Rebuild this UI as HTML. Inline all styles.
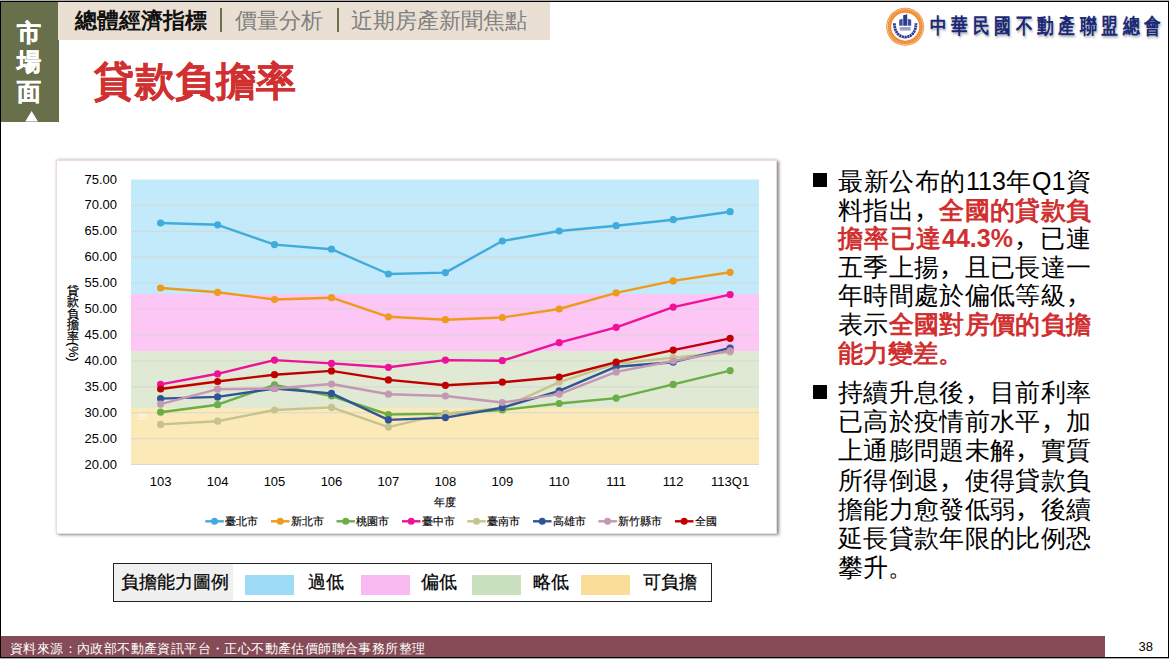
<!DOCTYPE html>
<html><head><meta charset="utf-8">
<style>
html,body{margin:0;padding:0;}
body{width:1169px;height:659px;position:relative;overflow:hidden;background:#adadad;font-family:"Liberation Sans",sans-serif;}
.slide{position:absolute;left:0;top:1px;width:1167px;height:655px;border:1px solid #000;background:#fff;}
.abs{position:absolute;}
.side{left:1px;top:2px;width:57.6px;height:119.5px;background:#686F4B;}
.side .t{position:absolute;left:-1px;width:57px;text-align:center;color:#fff;font-weight:bold;font-size:23.5px;line-height:25px;-webkit-text-stroke:0.6px #fff;}
.tri{position:absolute;left:22px;top:110px;width:0;height:0;border-left:6px solid transparent;border-right:6px solid transparent;border-bottom:10px solid #fff;}
.nav{left:58px;top:2px;width:492px;height:37.5px;background:#EADFD3;}
.nav span{position:absolute;top:6px;font-size:22px;line-height:26px;white-space:nowrap;}
.nav .sep{position:absolute;width:2px;background:#6B7148;top:6px;height:24px;}
.title{left:94px;top:57px;font-size:40.4px;letter-spacing:0.5px;line-height:48px;font-weight:bold;color:#D03030;white-space:nowrap;-webkit-text-stroke:0.2px #D03030;}
.card{left:56px;top:160px;width:719px;height:372px;border:1px solid #F0DADA;background:#fff;box-shadow:2px 1px 3px rgba(0,0,0,0.45),0 -1px 3px rgba(0,0,0,0.12);}
svg text{font-family:"Liberation Sans",sans-serif;}
.ax{font-size:13px;fill:#000;}
.lg{font-size:11.3px;fill:#000;stroke:#000;stroke-width:0.15;}
.bul{position:absolute;left:813px;width:14px;height:14px;background:#000;}
.ln{position:absolute;left:838px;width:253px;font-size:25px;line-height:30px;height:30px;color:#000;white-space:nowrap;}
.j{text-align:justify;text-align-last:justify;}
.red{color:#D03030;font-weight:bold;}
.legbox{left:113px;top:563px;width:597px;height:36.5px;border:1px solid #222;background:#fff;}
.legbox .h{position:absolute;left:0;top:0;width:119px;height:36.5px;background:#F0F0F0;}
.legbox span{position:absolute;top:7px;font-size:17.5px;line-height:22px;white-space:nowrap;-webkit-text-stroke:0.25px #000;}
.legbox .sw{position:absolute;top:10.5px;width:49px;height:20.5px;}
.footer{left:1px;top:636px;width:1104px;height:21px;background:#854B56;color:#fff;font-size:13.3px;line-height:22px;}
..title{left:94px;top:57px;font-size:40.4px;letter-spacing:0.5px;line-height:48px;font-weight:bold;color:#D03030;white-space:nowrap;-webkit-text-stroke:0.2px #D03030;}
.logo{left:930px;top:14px;font-weight:bold;font-size:17px;line-height:20px;letter-spacing:4.4px;color:#1A2878;white-space:nowrap;text-shadow:1px 2px 2px rgba(0,0,0,0.3);transform:scaleY(1.25);transform-origin:0 0;}
</style></head><body>
<div class="slide"></div>
<div class="abs side">
  <div class="t" style="top:18.5px">市</div>
  <div class="t" style="top:48px">場</div>
  <div class="t" style="top:77.5px">面</div>
  <svg style="position:absolute;left:0;top:0" width="57" height="120"><polygon points="24.3,119.5 30.6,109 37,119.5" fill="#fff"/></svg>
</div>
<div class="abs nav">
  <span style="left:17px;font-weight:bold;color:#111;">總體經濟指標</span>
  <div class="sep" style="left:162px"></div>
  <span style="left:177px;color:#808080;">價量分析</span>
  <div class="sep" style="left:279px"></div>
  <span style="left:293px;color:#808080;">近期房產新聞焦點</span>
</div>
<div class="abs title">貸款負擔率</div>
<div class="abs card"></div>
<div class="abs legbox">
  <div class="h"></div>
  <span style="left:7px">負擔能力圖例</span>
  <div class="sw" style="left:131px;background:#9DDBF6"></div>
  <span style="left:193.5px">過低</span>
  <div class="sw" style="left:247px;background:#F9BAF2"></div>
  <span style="left:307px">偏低</span>
  <div class="sw" style="left:358px;background:#C9E1BF"></div>
  <span style="left:419px">略低</span>
  <div class="sw" style="left:467px;background:#FADD98"></div>
  <span style="left:528.5px">可負擔</span>
</div>
<div class="bul" style="top:173px"></div>
<div class="bul" style="top:385px"></div>
<div class="ln j" style="top:166.0px">最新公布的113年Q1資</div>
<div class="ln j" style="top:194.6px">料指出<span lang="zh-CN">，</span><span class="red">全國的貸款負</span></div>
<div class="ln j" style="top:223.2px"><span class="red">擔率已達44.3%</span><span lang="zh-CN">，</span>已連</div>
<div class="ln j" style="top:251.8px">五季上揚<span lang="zh-CN">，</span>且已長達一</div>
<div class="ln j" style="top:280.4px">年時間處於偏低等級<span lang="zh-CN">，</span></div>
<div class="ln j" style="top:309.0px">表示<span class="red">全國對房價的負擔</span></div>
<div class="ln" style="top:337.6px"><span class="red">能力變差。</span></div>
<div class="ln j" style="top:377.0px">持續升息後<span lang="zh-CN">，</span>目前利率</div>
<div class="ln j" style="top:406.2px">已高於疫情前水平<span lang="zh-CN">，</span>加</div>
<div class="ln j" style="top:435.4px">上通膨問題未解<span lang="zh-CN">，</span>實質</div>
<div class="ln j" style="top:464.6px">所得倒退<span lang="zh-CN">，</span>使得貸款負</div>
<div class="ln j" style="top:493.8px">擔能力愈發低弱<span lang="zh-CN">，</span>後續</div>
<div class="ln j" style="top:523.0px">延長貸款年限的比例恐</div>
<div class="ln" style="top:552.2px">攀升。</div>

<div class="abs footer"><span style="position:absolute;left:9px;top:1.5px;width:415px;text-align:justify;text-align-last:justify;">資料來源：內政部不動產資訊平台・正心不動產估價師聯合事務所整理</span></div>
<div class="abs" style="left:1138.5px;top:638.5px;font-size:13px;line-height:15px;">38</div>
<div class="abs logo">中華民國不動產聯盟總會</div>
<svg class="abs" style="left:0;top:0" width="1169" height="659" viewBox="0 0 1169 659">
  <rect x="131" y="179.5" width="628" height="114.5" fill="#C2EAFA"/>
  <rect x="131" y="294" width="628" height="57" fill="#FCC6F5"/>
  <rect x="131" y="351" width="628" height="57" fill="#DFE9D3"/>
  <rect x="131" y="408" width="628" height="56.5" fill="#FBEAB7"/>
  <line x1="131" y1="205.4" x2="759" y2="205.4" stroke="#D6D6D6" stroke-width="1.2" opacity="0.7"/>
<line x1="131" y1="231.3" x2="759" y2="231.3" stroke="#D6D6D6" stroke-width="1.2" opacity="0.7"/>
<line x1="131" y1="257.2" x2="759" y2="257.2" stroke="#D6D6D6" stroke-width="1.2" opacity="0.7"/>
<line x1="131" y1="283.1" x2="759" y2="283.1" stroke="#D6D6D6" stroke-width="1.2" opacity="0.7"/>
<line x1="131" y1="309.0" x2="759" y2="309.0" stroke="#D6D6D6" stroke-width="1.2" opacity="0.7"/>
<line x1="131" y1="335.0" x2="759" y2="335.0" stroke="#D6D6D6" stroke-width="1.2" opacity="0.7"/>
<line x1="131" y1="360.9" x2="759" y2="360.9" stroke="#D6D6D6" stroke-width="1.2" opacity="0.7"/>
<line x1="131" y1="386.8" x2="759" y2="386.8" stroke="#D6D6D6" stroke-width="1.2" opacity="0.7"/>
<line x1="131" y1="412.7" x2="759" y2="412.7" stroke="#D6D6D6" stroke-width="1.2" opacity="0.7"/>
<line x1="131" y1="438.6" x2="759" y2="438.6" stroke="#D6D6D6" stroke-width="1.2" opacity="0.7"/>
<line x1="131" y1="464.5" x2="759" y2="464.5" stroke="#D6D6D6" stroke-width="1.2" opacity="0.9"/>
  <text x="117" y="183.5" class="ax" text-anchor="end">75.00</text>
<text x="117" y="209.4" class="ax" text-anchor="end">70.00</text>
<text x="117" y="235.3" class="ax" text-anchor="end">65.00</text>
<text x="117" y="261.2" class="ax" text-anchor="end">60.00</text>
<text x="117" y="287.1" class="ax" text-anchor="end">55.00</text>
<text x="117" y="313.0" class="ax" text-anchor="end">50.00</text>
<text x="117" y="339.0" class="ax" text-anchor="end">45.00</text>
<text x="117" y="364.9" class="ax" text-anchor="end">40.00</text>
<text x="117" y="390.8" class="ax" text-anchor="end">35.00</text>
<text x="117" y="416.7" class="ax" text-anchor="end">30.00</text>
<text x="117" y="442.6" class="ax" text-anchor="end">25.00</text>
<text x="117" y="468.5" class="ax" text-anchor="end">20.00</text>
  <text x="160.6" y="485.5" class="ax" text-anchor="middle">103</text>
<text x="217.6" y="485.5" class="ax" text-anchor="middle">104</text>
<text x="274.5" y="485.5" class="ax" text-anchor="middle">105</text>
<text x="331.5" y="485.5" class="ax" text-anchor="middle">106</text>
<text x="388.4" y="485.5" class="ax" text-anchor="middle">107</text>
<text x="445.4" y="485.5" class="ax" text-anchor="middle">108</text>
<text x="502.3" y="485.5" class="ax" text-anchor="middle">109</text>
<text x="559.2" y="485.5" class="ax" text-anchor="middle">110</text>
<text x="616.2" y="485.5" class="ax" text-anchor="middle">111</text>
<text x="673.2" y="485.5" class="ax" text-anchor="middle">112</text>
<text x="730.1" y="485.5" class="ax" text-anchor="middle">113Q1</text>
  <text x="434" y="506" class="lg">年度</text>
  <text x="137.5" y="420" style="font-size:8.6px;fill:#fff;opacity:0.85">30</text>
<text x="73" y="294.5" class="lg" style="font-size:11.8px;stroke:#000;stroke-width:0.25" text-anchor="middle">貸</text>
<text x="73" y="306.0" class="lg" style="font-size:11.8px;stroke:#000;stroke-width:0.25" text-anchor="middle">款</text>
<text x="73" y="317.5" class="lg" style="font-size:11.8px;stroke:#000;stroke-width:0.25" text-anchor="middle">負</text>
<text x="73" y="329.0" class="lg" style="font-size:11.8px;stroke:#000;stroke-width:0.25" text-anchor="middle">擔</text>
<text x="73" y="340.5" class="lg" style="font-size:11.8px;stroke:#000;stroke-width:0.25" text-anchor="middle">率</text>
<text transform="translate(68.5,342) rotate(90)" class="lg" style="font-size:12.5px;stroke:#000;stroke-width:0.2">(%)</text>
  <polyline points="160.6,223.0 217.6,224.8 274.5,244.6 331.5,249.2 388.4,274.0 445.4,272.6 502.3,241.0 559.2,231.0 616.2,225.7 673.2,219.7 730.1,211.7" fill="none" stroke="#41ABDB" stroke-width="2.4" stroke-linejoin="round"/>
<circle cx="160.6" cy="223.0" r="3.6" fill="#41ABDB"/>
<circle cx="217.6" cy="224.8" r="3.6" fill="#41ABDB"/>
<circle cx="274.5" cy="244.6" r="3.6" fill="#41ABDB"/>
<circle cx="331.5" cy="249.2" r="3.6" fill="#41ABDB"/>
<circle cx="388.4" cy="274.0" r="3.6" fill="#41ABDB"/>
<circle cx="445.4" cy="272.6" r="3.6" fill="#41ABDB"/>
<circle cx="502.3" cy="241.0" r="3.6" fill="#41ABDB"/>
<circle cx="559.2" cy="231.0" r="3.6" fill="#41ABDB"/>
<circle cx="616.2" cy="225.7" r="3.6" fill="#41ABDB"/>
<circle cx="673.2" cy="219.7" r="3.6" fill="#41ABDB"/>
<circle cx="730.1" cy="211.7" r="3.6" fill="#41ABDB"/>
<polyline points="160.6,288.0 217.6,292.3 274.5,299.5 331.5,297.7 388.4,316.8 445.4,319.7 502.3,317.5 559.2,309.0 616.2,292.8 673.2,280.9 730.1,272.3" fill="none" stroke="#EE9A1C" stroke-width="2.4" stroke-linejoin="round"/>
<circle cx="160.6" cy="288.0" r="3.6" fill="#EE9A1C"/>
<circle cx="217.6" cy="292.3" r="3.6" fill="#EE9A1C"/>
<circle cx="274.5" cy="299.5" r="3.6" fill="#EE9A1C"/>
<circle cx="331.5" cy="297.7" r="3.6" fill="#EE9A1C"/>
<circle cx="388.4" cy="316.8" r="3.6" fill="#EE9A1C"/>
<circle cx="445.4" cy="319.7" r="3.6" fill="#EE9A1C"/>
<circle cx="502.3" cy="317.5" r="3.6" fill="#EE9A1C"/>
<circle cx="559.2" cy="309.0" r="3.6" fill="#EE9A1C"/>
<circle cx="616.2" cy="292.8" r="3.6" fill="#EE9A1C"/>
<circle cx="673.2" cy="280.9" r="3.6" fill="#EE9A1C"/>
<circle cx="730.1" cy="272.3" r="3.6" fill="#EE9A1C"/>
<polyline points="160.6,412.2 217.6,404.7 274.5,384.9 331.5,396.0 388.4,414.5 445.4,413.6 502.3,410.0 559.2,403.5 616.2,398.1 673.2,384.4 730.1,370.6" fill="none" stroke="#6BAE47" stroke-width="2.4" stroke-linejoin="round"/>
<circle cx="160.6" cy="412.2" r="3.6" fill="#6BAE47"/>
<circle cx="217.6" cy="404.7" r="3.6" fill="#6BAE47"/>
<circle cx="274.5" cy="384.9" r="3.6" fill="#6BAE47"/>
<circle cx="331.5" cy="396.0" r="3.6" fill="#6BAE47"/>
<circle cx="388.4" cy="414.5" r="3.6" fill="#6BAE47"/>
<circle cx="445.4" cy="413.6" r="3.6" fill="#6BAE47"/>
<circle cx="502.3" cy="410.0" r="3.6" fill="#6BAE47"/>
<circle cx="559.2" cy="403.5" r="3.6" fill="#6BAE47"/>
<circle cx="616.2" cy="398.1" r="3.6" fill="#6BAE47"/>
<circle cx="673.2" cy="384.4" r="3.6" fill="#6BAE47"/>
<circle cx="730.1" cy="370.6" r="3.6" fill="#6BAE47"/>
<polyline points="160.6,384.4 217.6,373.8 274.5,360.1 331.5,363.4 388.4,367.3 445.4,360.1 502.3,360.7 559.2,342.7 616.2,327.3 673.2,307.1 730.1,294.6" fill="none" stroke="#EE119A" stroke-width="2.4" stroke-linejoin="round"/>
<circle cx="160.6" cy="384.4" r="3.6" fill="#EE119A"/>
<circle cx="217.6" cy="373.8" r="3.6" fill="#EE119A"/>
<circle cx="274.5" cy="360.1" r="3.6" fill="#EE119A"/>
<circle cx="331.5" cy="363.4" r="3.6" fill="#EE119A"/>
<circle cx="388.4" cy="367.3" r="3.6" fill="#EE119A"/>
<circle cx="445.4" cy="360.1" r="3.6" fill="#EE119A"/>
<circle cx="502.3" cy="360.7" r="3.6" fill="#EE119A"/>
<circle cx="559.2" cy="342.7" r="3.6" fill="#EE119A"/>
<circle cx="616.2" cy="327.3" r="3.6" fill="#EE119A"/>
<circle cx="673.2" cy="307.1" r="3.6" fill="#EE119A"/>
<circle cx="730.1" cy="294.6" r="3.6" fill="#EE119A"/>
<polyline points="160.6,424.4 217.6,421.2 274.5,410.0 331.5,407.4 388.4,427.1 445.4,413.6 502.3,408.0 559.2,382.2 616.2,363.7 673.2,357.6 730.1,351.9" fill="none" stroke="#C5C38F" stroke-width="2.4" stroke-linejoin="round"/>
<circle cx="160.6" cy="424.4" r="3.6" fill="#C5C38F"/>
<circle cx="217.6" cy="421.2" r="3.6" fill="#C5C38F"/>
<circle cx="274.5" cy="410.0" r="3.6" fill="#C5C38F"/>
<circle cx="331.5" cy="407.4" r="3.6" fill="#C5C38F"/>
<circle cx="388.4" cy="427.1" r="3.6" fill="#C5C38F"/>
<circle cx="445.4" cy="413.6" r="3.6" fill="#C5C38F"/>
<circle cx="502.3" cy="408.0" r="3.6" fill="#C5C38F"/>
<circle cx="559.2" cy="382.2" r="3.6" fill="#C5C38F"/>
<circle cx="616.2" cy="363.7" r="3.6" fill="#C5C38F"/>
<circle cx="673.2" cy="357.6" r="3.6" fill="#C5C38F"/>
<circle cx="730.1" cy="351.9" r="3.6" fill="#C5C38F"/>
<polyline points="160.6,398.6 217.6,396.9 274.5,388.5 331.5,393.4 388.4,419.9 445.4,417.6 502.3,407.7 559.2,390.8 616.2,366.7 673.2,362.2 730.1,348.0" fill="none" stroke="#2F5597" stroke-width="2.4" stroke-linejoin="round"/>
<circle cx="160.6" cy="398.6" r="3.6" fill="#2F5597"/>
<circle cx="217.6" cy="396.9" r="3.6" fill="#2F5597"/>
<circle cx="274.5" cy="388.5" r="3.6" fill="#2F5597"/>
<circle cx="331.5" cy="393.4" r="3.6" fill="#2F5597"/>
<circle cx="388.4" cy="419.9" r="3.6" fill="#2F5597"/>
<circle cx="445.4" cy="417.6" r="3.6" fill="#2F5597"/>
<circle cx="502.3" cy="407.7" r="3.6" fill="#2F5597"/>
<circle cx="559.2" cy="390.8" r="3.6" fill="#2F5597"/>
<circle cx="616.2" cy="366.7" r="3.6" fill="#2F5597"/>
<circle cx="673.2" cy="362.2" r="3.6" fill="#2F5597"/>
<circle cx="730.1" cy="348.0" r="3.6" fill="#2F5597"/>
<polyline points="160.6,404.1 217.6,389.2 274.5,388.5 331.5,384.0 388.4,394.2 445.4,396.0 502.3,402.5 559.2,394.1 616.2,371.9 673.2,361.0 730.1,350.8" fill="none" stroke="#C497B5" stroke-width="2.4" stroke-linejoin="round"/>
<circle cx="160.6" cy="404.1" r="3.6" fill="#C497B5"/>
<circle cx="217.6" cy="389.2" r="3.6" fill="#C497B5"/>
<circle cx="274.5" cy="388.5" r="3.6" fill="#C497B5"/>
<circle cx="331.5" cy="384.0" r="3.6" fill="#C497B5"/>
<circle cx="388.4" cy="394.2" r="3.6" fill="#C497B5"/>
<circle cx="445.4" cy="396.0" r="3.6" fill="#C497B5"/>
<circle cx="502.3" cy="402.5" r="3.6" fill="#C497B5"/>
<circle cx="559.2" cy="394.1" r="3.6" fill="#C497B5"/>
<circle cx="616.2" cy="371.9" r="3.6" fill="#C497B5"/>
<circle cx="673.2" cy="361.0" r="3.6" fill="#C497B5"/>
<circle cx="730.1" cy="350.8" r="3.6" fill="#C497B5"/>
<polyline points="160.6,389.0 217.6,381.5 274.5,374.7 331.5,370.9 388.4,379.9 445.4,385.3 502.3,382.2 559.2,377.0 616.2,362.1 673.2,350.1 730.1,338.3" fill="none" stroke="#C00000" stroke-width="2.4" stroke-linejoin="round"/>
<circle cx="160.6" cy="389.0" r="3.6" fill="#C00000"/>
<circle cx="217.6" cy="381.5" r="3.6" fill="#C00000"/>
<circle cx="274.5" cy="374.7" r="3.6" fill="#C00000"/>
<circle cx="331.5" cy="370.9" r="3.6" fill="#C00000"/>
<circle cx="388.4" cy="379.9" r="3.6" fill="#C00000"/>
<circle cx="445.4" cy="385.3" r="3.6" fill="#C00000"/>
<circle cx="502.3" cy="382.2" r="3.6" fill="#C00000"/>
<circle cx="559.2" cy="377.0" r="3.6" fill="#C00000"/>
<circle cx="616.2" cy="362.1" r="3.6" fill="#C00000"/>
<circle cx="673.2" cy="350.1" r="3.6" fill="#C00000"/>
<circle cx="730.1" cy="338.3" r="3.6" fill="#C00000"/>
  <line x1="205.3" y1="521.3" x2="223.8" y2="521.3" stroke="#41ABDB" stroke-width="2.4"/><circle cx="214.5" cy="521.3" r="3.5" fill="#41ABDB"/>
<text x="224.8" y="524.8" class="lg">臺北市</text>
<line x1="271.0" y1="521.3" x2="289.5" y2="521.3" stroke="#EE9A1C" stroke-width="2.4"/><circle cx="280.2" cy="521.3" r="3.5" fill="#EE9A1C"/>
<text x="290.5" y="524.8" class="lg">新北市</text>
<line x1="336.5" y1="521.3" x2="355.0" y2="521.3" stroke="#6BAE47" stroke-width="2.4"/><circle cx="345.7" cy="521.3" r="3.5" fill="#6BAE47"/>
<text x="356.0" y="524.8" class="lg">桃園市</text>
<line x1="402.0" y1="521.3" x2="420.5" y2="521.3" stroke="#EE119A" stroke-width="2.4"/><circle cx="411.2" cy="521.3" r="3.5" fill="#EE119A"/>
<text x="421.5" y="524.8" class="lg">臺中市</text>
<line x1="467.3" y1="521.3" x2="485.8" y2="521.3" stroke="#C5C38F" stroke-width="2.4"/><circle cx="476.5" cy="521.3" r="3.5" fill="#C5C38F"/>
<text x="486.8" y="524.8" class="lg">臺南市</text>
<line x1="533.0" y1="521.3" x2="551.5" y2="521.3" stroke="#2F5597" stroke-width="2.4"/><circle cx="542.2" cy="521.3" r="3.5" fill="#2F5597"/>
<text x="552.5" y="524.8" class="lg">高雄市</text>
<line x1="598.4" y1="521.3" x2="616.9" y2="521.3" stroke="#C497B5" stroke-width="2.4"/><circle cx="607.6" cy="521.3" r="3.5" fill="#C497B5"/>
<text x="617.9" y="524.8" class="lg">新竹縣市</text>
<line x1="675.0" y1="521.3" x2="693.5" y2="521.3" stroke="#C00000" stroke-width="2.4"/><circle cx="684.2" cy="521.3" r="3.5" fill="#C00000"/>
<text x="694.5" y="524.8" class="lg">全國</text>
  <g transform="translate(905.2,26.7)">
<circle r="19" fill="#EE8A2E"/>
<circle r="17.9" fill="none" stroke="#fff" stroke-width="0.6" opacity="0.85"/>
<circle r="15.9" fill="none" stroke="#FBD9BA" stroke-width="1.6" stroke-dasharray="0.9 1.3" opacity="0.45"/>
<circle r="14" fill="#fff"/>
<path d="M-6,-1 L-6,-7 L-2.6,-8 L-2.6,-1 Z" fill="#3F4C9E"/>
<path d="M-2,-1 L-2,-11.5 L2,-12.5 L2,-1 Z" fill="#2B3990"/>
<path d="M2.6,-1 L2.6,-8 L6,-7 L6,-1 Z" fill="#3F4C9E"/>
<rect x="-5.5" y="0.3" width="11" height="3.6" fill="#9CA2C8"/>
<path d="M-10.8,-3.5 Q-10.5,9.5 0,10.5 Q10.5,9.5 10.8,-3.5" fill="none" stroke="#2B3990" stroke-width="2.8" stroke-dasharray="2.2 0.5"/>
</g>
</svg>
</body></html>
